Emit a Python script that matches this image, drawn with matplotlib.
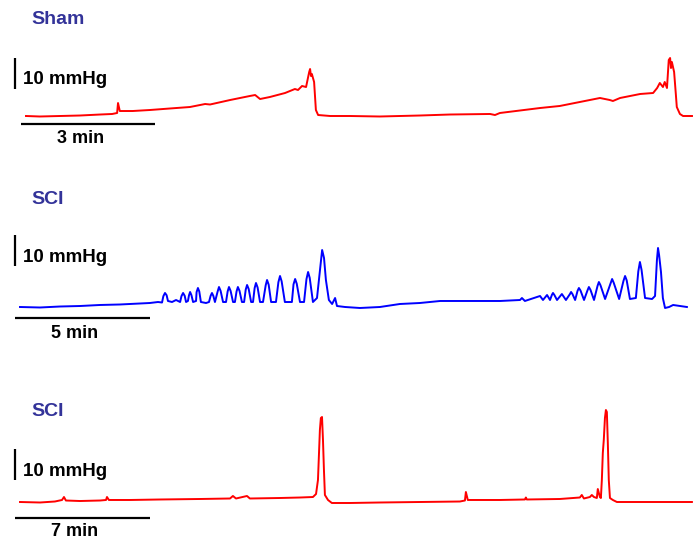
import matplotlib
matplotlib.use("Agg")
import matplotlib.pyplot as plt

# Sham trace: time (min), pressure (mmHg above baseline)
sham_t = [0, 0.31, 0.76, 1.21, 1.66, 1.93, 2.04, 2.06, 2.10, 2.39, 2.78, 3.22, 3.67,
          4.01, 4.12, 4.57, 5.01, 5.13, 5.24, 5.46, 5.80, 6.02, 6.09, 6.18, 6.27,
          6.34, 6.36, 6.38, 6.40, 6.45, 6.49, 6.54, 6.81, 7.25, 7.92, 8.82, 9.49,
          10.39, 10.50, 10.61, 11.51, 11.95, 12.40, 12.85, 13.07, 13.14, 13.30,
          13.75, 14.04, 14.13, 14.19, 14.26, 14.30, 14.35, 14.39, 14.42, 14.44,
          14.46, 14.51, 14.55, 14.57, 14.64, 14.71, 14.91]
sham_p = [0, -0.16, 0, 0.16, 0.48, 0.65, 0.97, 4.19, 1.61, 1.61, 1.94, 2.42, 2.90,
          3.87, 3.71, 5.16, 6.45, 6.77, 5.48, 6.13, 7.42, 8.71, 8.39, 9.68, 9.35,
          14.19, 15.16, 12.90, 13.55, 10.97, 1.94, 0.32, 0, 0, -0.16, 0.16, 0.48,
          0.65, 0.32, 0.97, 2.58, 3.23, 4.52, 5.81, 5.16, 4.84, 5.81,
          7.10, 7.42, 9.03, 10.65, 9.35, 10.97, 9.03, 18.06, 18.71, 15.48,
          17.42, 14.19, 6.77, 2.90, 0.65, 0, 0]

# SCI trace with non-voiding contractions
sci1_t = [0, 0.74, 1.48, 2.22, 2.96, 3.70, 4.44, 4.81, 5.11, 5.26,
          5.31, 5.37, 5.43, 5.48, 5.63, 5.78, 5.93,
          5.98, 6.04, 6.10, 6.15, 6.22,
          6.26, 6.30, 6.35, 6.41, 6.52,
          6.54, 6.59, 6.64, 6.70, 6.89, 7.00,
          7.06, 7.11, 7.16, 7.22,
          7.32, 7.37, 7.43, 7.52, 7.63,
          7.69, 7.74, 7.80, 7.89, 7.96,
          8.02, 8.07, 8.13, 8.22, 8.30,
          8.36, 8.41, 8.47, 8.56, 8.63,
          8.69, 8.74, 8.80, 8.89, 9.00,
          9.10, 9.15, 9.21, 9.30, 9.48,
          9.57, 9.63, 9.69, 9.81, 10.07,
          10.13, 10.19, 10.25, 10.37, 10.52,
          10.61, 10.67, 10.73, 10.85, 11.00,
          11.11, 11.19, 11.26, 11.33, 11.44,
          11.56, 11.67, 11.74, 12.04, 12.59, 13.33, 14.07, 14.81, 15.56, 16.30,
          17.04, 17.78, 18.52, 18.59, 18.70, 19.26, 19.37, 19.52, 19.63,
          19.70, 19.74, 19.79, 19.89, 20.07, 20.22,
          20.37, 20.41, 20.46, 20.56,
          20.65, 20.70, 20.76, 20.89,
          21.02, 21.07, 21.13, 21.26,
          21.39, 21.44, 21.50, 21.67,
          21.87, 21.93, 21.99, 22.19,
          22.35, 22.41, 22.47, 22.59, 22.81,
          22.90, 22.96, 23.02, 23.15, 23.41, 23.52,
          23.59, 23.63, 23.67, 23.74, 23.81, 23.89, 24.04, 24.19, 24.44, 24.70]
sci1_p = [0, -0.16, 0.16, 0.32, 0.65, 0.81, 1.13, 1.29, 1.61, 1.45,
          3.5, 4.52, 3.8, 1.94, 1.61, 2.26, 1.61,
          3.5, 4.52, 3.6, 1.61, 1.94,
          3.8, 4.84, 3.8, 1.61, 1.94,
          4.8, 6.13, 5.0, 1.61, 1.29, 1.61,
          3.6, 4.52, 3.6, 1.61,
          5.0, 6.45, 5.2, 1.61, 1.61,
          5.0, 6.45, 5.2, 1.61, 1.61,
          5.0, 6.45, 5.2, 1.61, 1.61,
          5.6, 7.10, 5.8, 1.61, 1.61,
          6.1, 7.74, 6.3, 1.61, 1.61,
          7.0, 8.71, 7.2, 1.61, 1.61,
          8.0, 10.00, 8.3, 1.61, 1.61,
          7.3, 9.03, 7.5, 1.61, 1.61,
          9.0, 11.29, 9.4, 1.61, 2.90,
          11.94, 18.39, 15.81, 8.71, 2.26,
          0.97, 2.90, 0.32, 0, -0.32, 0, 0.97, 1.29, 1.94, 1.94,
          1.94, 1.94, 2.26, 2.90, 1.94, 3.55, 2.26, 3.87, 2.26,
          3.9, 4.52, 3.9, 2.26, 4.19, 2.26,
          4.2, 4.84, 4.2, 2.26,
          5.2, 6.13, 5.3, 2.26,
          5.4, 6.45, 5.5, 2.26,
          6.8, 8.06, 7.0, 2.58,
          7.6, 9.03, 7.8, 2.58,
          8.4, 10.00, 8.6, 2.58, 2.90,
          11.5, 14.52, 12.0, 2.90, 2.58, 3.55,
          15.16, 19.03, 16.77, 11.29, 2.90, -0.32, 0, 0.65, 0.32, 0]

# SCI trace with voiding contractions only
sci2_t = [0, 1.04, 1.81, 2.18, 2.28, 2.38, 3.11, 4.15, 4.46, 4.51, 4.61, 5.70, 7.26,
          9.33, 10.89, 11.04, 11.20, 11.77, 11.92, 13.48, 14.52, 15.19, 15.35, 15.45,
          15.50, 15.55, 15.60, 15.66, 15.71, 15.76, 15.81, 15.97, 16.17, 17.11,
          18.66, 20.74, 22.81, 23.07, 23.12, 23.22, 24.88, 26.18, 26.23, 26.28,
          27.99, 29.03, 29.13, 29.24, 29.55, 29.65, 29.76, 29.91, 29.96, 30.07,
          30.12, 30.17, 30.22, 30.27, 30.33, 30.38, 30.43, 30.48, 30.53, 30.59,
          30.74, 30.95, 32.66, 34.84]
sci2_p = [0, -0.16, 0.16, 0.65, 1.61, 0.48, 0.32, 0.48, 0.65, 1.61, 0.65, 0.65, 0.81,
          0.97, 1.13, 1.94, 1.13, 1.94, 1.13, 1.29, 1.45, 1.61, 2.58, 7.10,
          15.16, 23.23, 27.10, 27.42, 20.00, 10.32, 2.26, 0.65, -0.32, -0.32,
          -0.16, 0, 0.16, 0.48, 3.23, 0.65, 0.65, 0.81, 1.45, 0.81,
          0.97, 1.45, 2.26, 1.13, 1.61, 2.26, 1.61, 1.29, 4.19, 1.61,
          1.29, 7.10, 15.81, 20.00, 27.10, 29.68, 29.03, 19.03, 7.10, 1.29,
          0.65, 0, 0, 0]

titles = ["Sham", "SCI", "SCI"]
time_bars = [3, 5, 7]
press_bar = 10

W, H = 694, 541
PX_MMHG = 3.1
# panel layout in pixels: trace origin x, baseline y, px per min, label ys
panels = [
    dict(t=sham_t, p=sham_p, x0=26, y0=116, ppm=134 / 3, color="#ff0000",
         title_y=19, vbar=(58, 89), hbar_y=124, hbar_x=21, lab_y=80, min_y=139),
    dict(t=sci1_t, p=sci1_p, x0=20, y0=307, ppm=135 / 5, color="#0000ff",
         title_y=199, vbar=(236, 266), hbar_y=318, hbar_x=15, lab_y=257, min_y=333),
    dict(t=sci2_t, p=sci2_p, x0=20, y0=502, ppm=135 / 7, color="#ff0000",
         title_y=412, vbar=(449, 480), hbar_y=518, hbar_x=15, lab_y=471, min_y=532),
]

plt.rcParams['font.family'] = ['Liberation Sans', 'DejaVu Sans']
fig = plt.figure(figsize=(W / 100, H / 100), dpi=100)

for i, pn in enumerate(panels):
    ax = fig.add_axes([0, 0, 1, 1])
    ax.patch.set_alpha(0)
    ax.set_axis_off()
    ppm = pn["ppm"]
    ax.set_xlim(-pn["x0"] / ppm, (W - pn["x0"]) / ppm)
    ax.set_ylim(-(H - pn["y0"]) / PX_MMHG, pn["y0"] / PX_MMHG)
    ax.plot(pn["t"], pn["p"], color=pn["color"], lw=1.4, solid_joinstyle="round")

    # vertical 10 mmHg scale bar
    vb_x = (15 - pn["x0"]) / ppm
    vb_lo = (pn["y0"] - pn["vbar"][1]) / PX_MMHG
    ax.plot([vb_x, vb_x], [vb_lo, vb_lo + press_bar], color="black", lw=1.6,
            solid_capstyle="butt")
    # horizontal time scale bar
    hb_x = (pn["hbar_x"] - pn["x0"]) / ppm
    hb_y = (pn["y0"] - pn["hbar_y"]) / PX_MMHG
    ax.plot([hb_x, hb_x + time_bars[i]], [hb_y, hb_y], color="black", lw=1.6,
            solid_capstyle="butt")

    fig.text(31 / W, 1 - pn["title_y"] / H, titles[i], color="#333399",
             fontsize=14, fontweight="bold", va="center", ha="left")
    fig.text(23 / W, 1 - pn["lab_y"] / H, f"{press_bar} mmHg", color="black",
             fontsize=13.5, fontweight="bold", va="center", ha="left")
    fig.text((pn["hbar_x"] + 135 / 2 - 8) / W, 1 - pn["min_y"] / H,
             f"{time_bars[i]} min", color="black", fontsize=13,
             fontweight="bold", va="center", ha="center")

fig.savefig("out.png", dpi=100)
